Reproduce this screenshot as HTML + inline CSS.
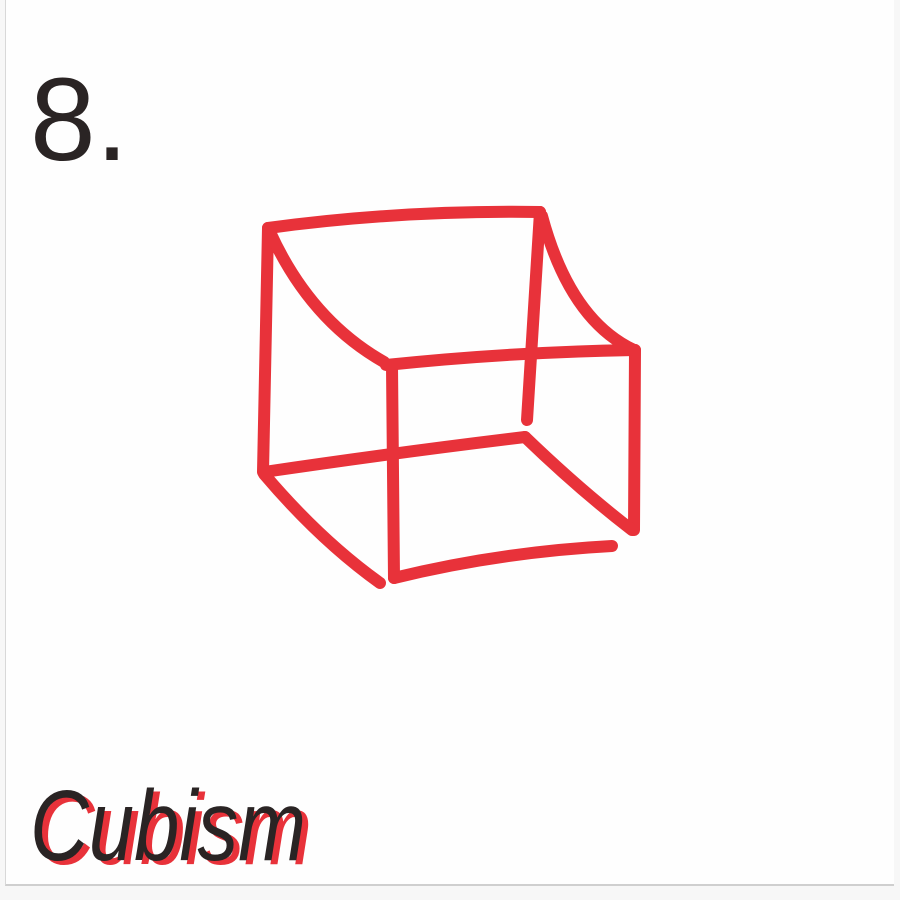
<!DOCTYPE html>
<html>
<head>
<meta charset="utf-8">
<style>
  html,body{margin:0;padding:0;background:#f7f7f7;}
  #card{position:absolute;left:5px;top:0;width:888px;height:884px;background:#fefefe;border-left:1px solid #d8d8d8;border-bottom:2px solid #cfcfcf;}
  svg{position:absolute;left:0;top:0;}
</style>
</head>
<body>
<div id="card"></div>
<svg width="900" height="900" viewBox="0 0 900 900">
  <g fill="none" stroke="#e8323a" stroke-width="12" stroke-linecap="round" stroke-linejoin="round">
    <path d="M268,228 Q400,210 540,212"/>
    <path d="M540,212 L527,420"/>
    <path d="M268,228 L263,472"/>
    <path d="M270,232 Q310,320 384,362"/>
    <path d="M542,216 Q570,320 634,350"/>
    <path d="M386,365 Q510,352 635,350"/>
    <path d="M392,366 L394,578"/>
    <path d="M635,350 L634,530"/>
    <path d="M394,578 Q500,552 612,546"/>
    <path d="M264,474 Q320,540 380,583"/>
    <path d="M264,472 Q400,452 525,437"/>
    <path d="M525,437 Q580,490 632,530"/>
  </g>
  <text x="30" y="160" font-family="'Liberation Sans', sans-serif" font-size="118" fill="#2a2424">8.</text>
  <text x="36" y="864" textLength="276" lengthAdjust="spacingAndGlyphs" font-family="'Liberation Sans', sans-serif" font-style="italic" font-size="100" fill="#e8323a">Cubism</text>
  <text x="30" y="860" textLength="276" lengthAdjust="spacingAndGlyphs" font-family="'Liberation Sans', sans-serif" font-style="italic" font-size="100" fill="#2a2424">Cubism</text>
</svg>
</body>
</html>
